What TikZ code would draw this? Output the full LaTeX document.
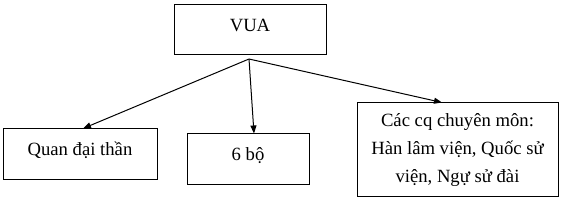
\documentclass[tikz,border=0pt]{standalone}
\usepackage{fontspec}
\setmainfont{Liberation Serif}
\usetikzlibrary{arrows.meta,calc,positioning}
\tikzset{
  box/.style={draw,line width=0.75pt,inner sep=0pt,align=center,font=\fontsize{14}{21}\selectfont},
  onebox/.style={box,text height=8.5pt,text depth=6.5pt},
  link/.style={line width=0.75pt,-{Triangle[length=6pt,width=4.5pt]}}
}

\begin{document}
\begin{tikzpicture}[x=0.75pt,y=-0.75pt]
  \useasboundingbox (0,0) rectangle (565,203);
  % Top box
  \node[onebox,minimum width=114pt,minimum height=37.5pt] (vua) at (250,30) {VUA};
  \coordinate (apex) at (249,59);
  % Lower boxes
  \node[onebox,minimum width=115.5pt,minimum height=38.25pt] (quan) at (80,154.5) {Quan đại thần};
  \node[onebox,minimum width=91.5pt,minimum height=38.25pt] (bo) at (248,159.5) {6 bộ};
  \node[box,minimum width=150.75pt,minimum height=70.5pt] (cq) at (457.5,150)
    {Các cq chuyên môn:\\Hàn lâm viện, Quốc sử\\viện, Ngự sử đài};
  % Arrows
  \draw[link] (apex) -- ($(quan.north)+(3,0)$);
  \draw[link] (apex) -- ($(bo.north)+(6,0)$);
  \draw[link] (apex) -- ($(cq.north)+(-15.5,0)$);
\end{tikzpicture}
\end{document}
